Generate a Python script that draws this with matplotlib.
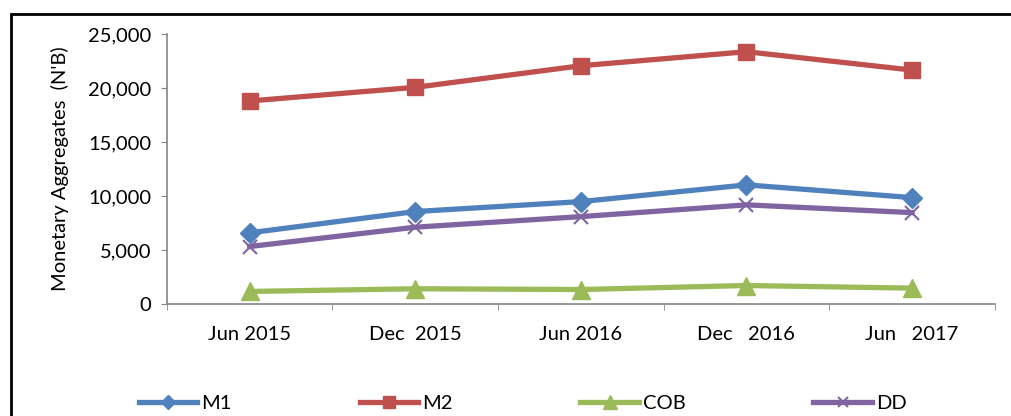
import matplotlib
matplotlib.use("Agg")
import matplotlib.pyplot as plt
import matplotlib.patches as patches
import numpy as np

# data
periods = ["Jun 2015", "Dec  2015", "Jun 2016", "Dec   2016", "Jun   2017"]
m1 = [6600, 8570, 9490, 11040, 9860]
m2 = [18810, 20070, 22070, 23370, 21670]
cob = [1170, 1420, 1350, 1720, 1480]
dd = [5330, 7120, 8100, 9190, 8470]

plt.rcParams['font.family'] = ['Lato', 'DejaVu Sans']

fig = plt.figure(figsize=(10.11, 4.16), dpi=100)
ax = fig.add_axes([0.165, 0.269, 0.819, 0.649])

x = np.arange(len(periods))
ax.plot(x, m1, color='#4F81BD', lw=3.8, marker='D', ms=10, label='M1')
ax.plot(x, m2, color='#C0504D', lw=3.8, marker='s', ms=12, label='M2')
ax.plot(x, cob, color='#9BBB59', lw=3.8, marker='^', ms=13, label='COB')
ax.plot(x, dd, color='#8064A2', lw=3.8, marker='x', ms=10, mew=1.5, label='DD')

ax.set_xlim(-0.5, len(periods) - 0.5)
ax.set_ylim(0, 25000)
ax.set_yticks(np.arange(0, 25001, 5000))
ax.set_yticklabels([f"{v:,}" for v in range(0, 25001, 5000)])
ax.set_xticks(x)
ax.set_xticklabels(periods)
ax.set_xticks(np.arange(-0.5, len(periods)), minor=True)
ax.tick_params(axis='x', which='major', length=0, pad=16, labelsize=14.5)
ax.tick_params(axis='x', which='minor', length=4, color='#868686', direction='out')
ax.tick_params(axis='y', length=4, color='#868686', labelsize=14.5, pad=7)
ax.set_ylabel("Monetary Aggregates  (N'B)", fontsize=14.5, labelpad=14)

for s in ['top', 'right']:
    ax.spines[s].set_visible(False)
for s in ['left', 'bottom']:
    ax.spines[s].set_color('#868686')
    ax.spines[s].set_linewidth(1.2)

fig.legend(loc='center', bbox_to_anchor=(0.517, 0.03), ncol=4, frameon=False,
           fontsize=14.5, handlelength=2.9, handletextpad=0.2, columnspacing=6.35,
           markerscale=0.75)

# outer chart frame (top and left edges visible)
frame = patches.Rectangle((11 / 1011, -0.1), 1.2, (416 - 14) / 416 + 0.1,
                          transform=fig.transFigure, fill=False,
                          edgecolor='black', lw=2, clip_on=False)
fig.patches.append(frame)

fig.savefig("out.png", dpi=100)
